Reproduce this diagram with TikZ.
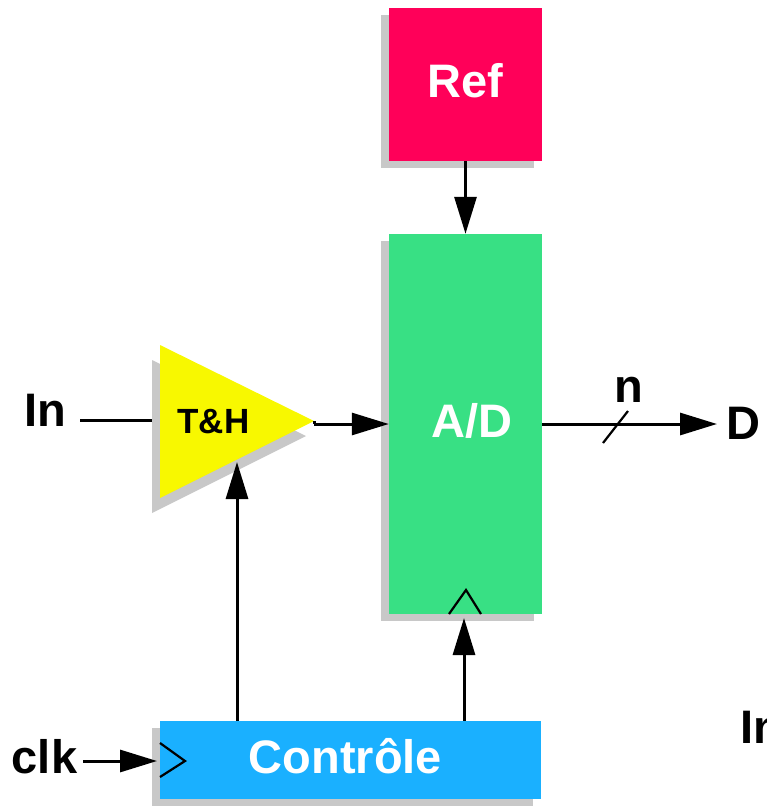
\documentclass[tikz,border=0pt]{standalone}
\usepackage{fontspec}
\setmainfont{Liberation Sans}
\usetikzlibrary{arrows.meta,shadows}
\definecolor{refc}{RGB}{255,0,89}
\definecolor{adc}{RGB}{56,224,132}
\definecolor{ctrlc}{RGB}{26,176,255}
\definecolor{thc}{RGB}{248,248,0}
\definecolor{shadowc}{RGB}{200,200,200}
\tikzset{
  blk/.style={rectangle, inner sep=0pt, draw=none,
    general shadow={fill=shadowc, shadow xshift=-8pt, shadow yshift=-7pt}},
  arr/.style={line width=3pt, -{Triangle[length=37pt,width=22pt]}},
  wire/.style={line width=3pt},
  thin mark/.style={line width=2.2pt},
  lbl/.style={inner sep=0pt, anchor=base, font=\bfseries\fontsize{47}{50}\selectfont},
  wlbl/.style={lbl, text=white},
}
\begin{document}
\begin{tikzpicture}[x=1pt,y=-1pt]
\useasboundingbox (0,0) rectangle (767,806);
% blocks
\node[blk, fill=refc, minimum width=153pt, minimum height=153pt] (ref) at (465.5,84.5) {};
\node[blk, fill=adc, minimum width=153pt, minimum height=380pt] (ad) at (465.5,424) {};
\node[blk, fill=ctrlc, minimum width=381pt, minimum height=78pt] (ctrl) at (350.5,760) {};
% coordinates of the T&H triangle
\coordinate (thtop) at (160,345);
\coordinate (thbotl) at (160,498);
\coordinate (thtip) at (314,421);
\coordinate (thin) at (237,462);
\coordinate (inl) at (80,420);
\coordinate (thinput) at (160,420);
% input wire (under the shadow)
\draw[wire] (inl) -- (thinput);
% T&H triangle with shadow
\fill[shadowc] ([shift={(-8,15)}]thtop) -- ([shift={(-8,15)}]thbotl) -- ([shift={(-8,15)}]thtip) -- cycle;
\fill[thc] (thtop) -- (thbotl) -- (thtip) -- cycle;
% clock marks
\draw[thin mark] (160,743) -- (185,761) -- (160,777);
\draw[thin mark] (449,614) -- (466,590) -- (481,614);
% connectors
\coordinate (thout) at (314,424);
\coordinate (adclk) at (464,618);
\coordinate (dtip) at (717,424);
\coordinate (clks) at (83,761);
\coordinate (clke) at (157,761);
\draw[arr] (ref.south) -- (ad.north);
\draw[wire] (thtip) -- (thout);
\draw[arr] (thout) -- (ad.west |- thout);
\draw[arr] (ad.east |- dtip) -- (dtip);
\draw[thin mark] (603,443) -- (628,411);
\draw[arr] (ctrl.north -| thin) -- (thin);
\draw[arr] (ctrl.north -| adclk) -- (adclk);
\draw[arr] (clks) -- (clke);
% labels
\node[wlbl] (reft) at (465,97) {Ref};
\node[wlbl] (adt) at (472,437) {A/D};
\node[wlbl] (ctrlt) at (345.5,773) {Contrôle};
\node[lbl, font=\bfseries\fontsize{35}{40}\selectfont] (tht) at (213.5,433) {T\&H};
\node[lbl] (int) at (45,426) {In};
\node[lbl] (nt) at (628.5,402) {n};
\node[lbl, anchor=base west] (dt) at (726,439) {D};
\node[lbl] (clkt) at (44.5,773) {clk};
\node[lbl, anchor=base west] (in2t) at (740,743) {In};
\end{tikzpicture}
\end{document}
